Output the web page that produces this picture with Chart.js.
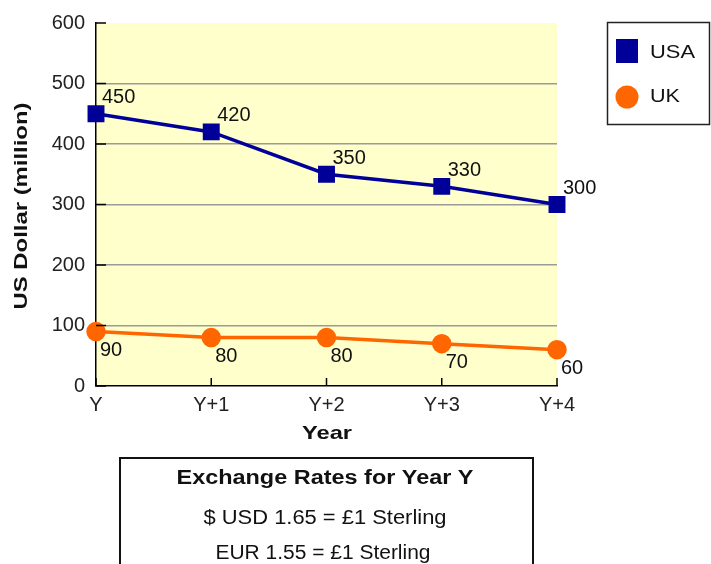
<!DOCTYPE html>
<html>
<head>
<meta charset="utf-8">
<script src="https://cdn.jsdelivr.net/npm/chart.js@4"></script>
<style>
  body { margin: 0; background: #fff; }
  #wrap { position: relative; width: 711px; height: 564px; }
</style>
</head>
<body>
<div id="wrap"><canvas id="rates-chart" width="711" height="564"></canvas></div>
<script>
// chart data
const years = ["Y", "Y+1", "Y+2", "Y+3", "Y+4"];
const usaValues = [450, 420, 350, 330, 300];
const ukValues = [90, 80, 80, 70, 60];
const seriesNames = ["USA", "UK"];
const yTicks = [0, 100, 200, 300, 400, 500, 600];
const infoLines = ["Exchange Rates for Year Y", "$ USD 1.65 = £1 Sterling", "EUR 1.55 = £1 Sterling"];

const FONT = "'Liberation Sans', Arial, sans-serif";
const BLUE = "#000099";
const ORANGE = "#ff6600";

// draws text stretched to a given width (the source text is rendered wide)
function fitText(ctx, text, x, y, width, align) {
  const w = ctx.measureText(text).width;
  ctx.save();
  ctx.translate(x, y);
  ctx.scale(width / w, 1);
  ctx.textAlign = align;
  ctx.fillText(text, 0, 0);
  ctx.restore();
}

// background, inner ticks, value labels, titles, legend and rates box
const extras = {
  id: "extras",
  beforeDraw(chart) {
    const { ctx, chartArea: a } = chart;
    ctx.save();
    ctx.fillStyle = "#ffffcc";
    ctx.fillRect(a.left, a.top, a.right - a.left, a.bottom - a.top);
    ctx.restore();
  },
  afterDraw(chart) {
    const { ctx, chartArea: a, scales } = chart;
    ctx.save();

    // short inside ticks
    ctx.strokeStyle = "#000";
    ctx.lineWidth = 1.5;
    yTicks.forEach((v) => {
      const y = scales.y.getPixelForValue(v);
      ctx.beginPath();
      ctx.moveTo(a.left, y);
      ctx.lineTo(a.left + 10, y);
      ctx.stroke();
    });
    years.forEach((_, i) => {
      const x = scales.x.getPixelForValue(i);
      ctx.beginPath();
      ctx.moveTo(x, a.bottom);
      ctx.lineTo(x, a.bottom - 8);
      ctx.stroke();
    });

    // value labels
    ctx.font = "20px " + FONT;
    ctx.fillStyle = "#111";
    ctx.textAlign = "left";
    ctx.textBaseline = "middle";
    chart.getDatasetMeta(0).data.forEach((p, i) => {
      ctx.fillText(String(usaValues[i]), p.x + 6, p.y - 16);
    });
    chart.getDatasetMeta(1).data.forEach((p, i) => {
      ctx.fillText(String(ukValues[i]), p.x + 4, p.y + 19);
    });

    // axis titles
    ctx.textBaseline = "alphabetic";
    ctx.fillStyle = "#111";
    ctx.font = "bold 19px " + FONT;
    fitText(ctx, "Year", 327, 439, 50, "center");
    ctx.save();
    ctx.translate(27, 206);
    ctx.rotate(-Math.PI / 2);
    fitText(ctx, "US Dollar (million)", 0, 0, 207, "center");
    ctx.restore();

    // legend box
    ctx.strokeStyle = "#222";
    ctx.lineWidth = 1.5;
    ctx.strokeRect(607.5, 22.5, 102, 102);
    ctx.fillStyle = BLUE;
    ctx.fillRect(616, 39, 22, 24);
    ctx.fillStyle = ORANGE;
    ctx.beginPath();
    ctx.arc(627, 97, 11.5, 0, Math.PI * 2);
    ctx.fill();
    ctx.fillStyle = "#111";
    ctx.font = "18px " + FONT;
    fitText(ctx, seriesNames[0], 650, 58, 45, "left");
    fitText(ctx, seriesNames[1], 650, 102, 30, "left");

    // exchange rate box
    ctx.strokeStyle = "#111";
    ctx.lineWidth = 2;
    ctx.strokeRect(120, 458, 413, 120);
    ctx.font = "bold 20px " + FONT;
    fitText(ctx, infoLines[0], 325, 484, 297, "center");
    ctx.font = "20px " + FONT;
    fitText(ctx, infoLines[1], 325, 524, 243, "center");
    fitText(ctx, infoLines[2], 323, 559, 215, "center");

    ctx.restore();
  },
};

const ctx = document.getElementById("rates-chart").getContext("2d");

new Chart(ctx, {
  type: "line",
  data: {
    labels: years,
    datasets: [
      {
        label: seriesNames[0],
        data: usaValues,
        borderColor: BLUE,
        backgroundColor: BLUE,
        borderWidth: 3.5,
        pointStyle: "rect",
        pointRadius: 9.5,
        pointHoverRadius: 9.5,
        tension: 0,
        clip: false,
      },
      {
        label: seriesNames[1],
        data: ukValues,
        borderColor: ORANGE,
        backgroundColor: ORANGE,
        borderWidth: 3.5,
        pointStyle: "circle",
        pointRadius: 8,
        pointHoverRadius: 8,
        tension: 0,
        clip: false,
      },
    ],
  },
  options: {
    responsive: false,
    animation: false,
    layout: { padding: { left: 0, top: 20, right: 154, bottom: 0 } },
    scales: {
      x: {
        offset: false,
        grid: { display: false, drawTicks: false },
        border: { display: true, color: "#000", width: 1.5 },
        ticks: { color: "#222", font: { size: 20, family: FONT }, padding: 7, maxRotation: 0 },
        afterFit(scale) {
          scale.height = 178;
        },
      },
      y: {
        min: 0,
        max: 600,
        grid: {
          drawTicks: false,
          color: (c) => (c.tick && (c.tick.value === 0 || c.tick.value === 600) ? "rgba(0,0,0,0)" : "#9a9a9a"),
          lineWidth: 1.5,
        },
        border: { display: true, color: "#000", width: 1.5 },
        ticks: { stepSize: 100, color: "#222", font: { size: 20, family: FONT }, padding: 11 },
        afterFit(scale) {
          scale.width = 96;
        },
      },
    },
    plugins: {
      legend: { display: false },
      tooltip: { enabled: false },
    },
  },
  plugins: [extras],
});
</script>
</body>
</html>
